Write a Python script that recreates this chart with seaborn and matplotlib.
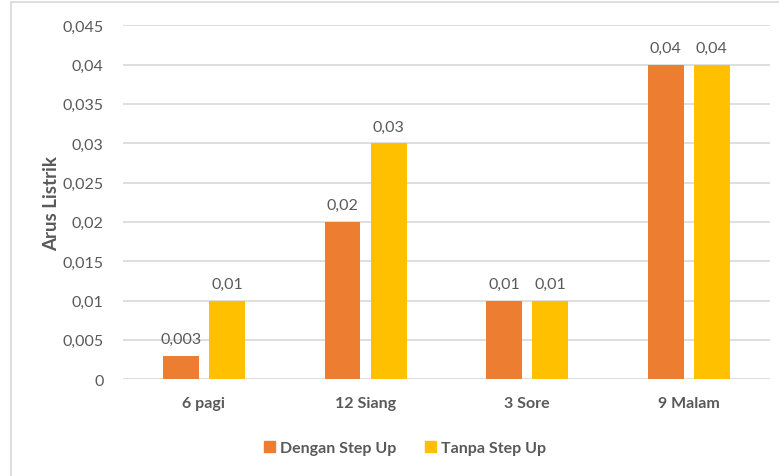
import pandas as pd
import seaborn as sns
import matplotlib.pyplot as plt
from matplotlib.lines import Line2D
from matplotlib.patches import Patch

# data
waktu = ["6 pagi", "12 Siang", "3 Sore", "9 Malam"]
dengan_step_up = [0.003, 0.02, 0.01, 0.04]
tanpa_step_up = [0.01, 0.03, 0.01, 0.04]
seri = ["Dengan Step Up", "Tanpa Step Up"]
yticks = [0, 0.005, 0.01, 0.015, 0.02, 0.025, 0.03, 0.035, 0.04, 0.045]

df = pd.DataFrame({
    "Waktu": waktu * 2,
    "Arus": dengan_step_up + tanpa_step_up,
    "Seri": [seri[0]] * 4 + [seri[1]] * 4,
})

sns.set_style("white")
plt.rcParams["font.family"] = ["Lato", "DejaVu Sans"]
grey = "#595959"
warna = {"Dengan Step Up": "#ED7D31", "Tanpa Step Up": "#FFC000"}

fig = plt.figure(figsize=(7.79, 4.77), dpi=100)
ax = fig.add_axes([0.158, 0.203, 0.83, 0.742])

sns.barplot(data=df, x="Waktu", y="Arus", hue="Seri", palette=warna,
            saturation=1, width=0.57, gap=0.22, legend=False, ax=ax,
            linewidth=0, zorder=3)

def fmt(v):
    return ("%g" % v).replace(".", ",")

for cont in ax.containers:
    ax.bar_label(cont, labels=[fmt(b.get_height()) for b in cont],
                 padding=7, color=grey, fontsize=11.5)

ax.set_ylim(0, 0.045)
ax.set_xlim(-0.5, 3.5)
ax.set_yticks(yticks)
ax.set_yticklabels([fmt(t) for t in yticks], color=grey, fontsize=11.5)
ax.set_xticklabels(waktu, color=grey, fontsize=11.5, fontweight="bold")
ax.tick_params(axis="both", length=0, pad=12)
ax.tick_params(axis="y", pad=14)
ax.yaxis.grid(True, color="#D9D9D9", linewidth=1.2, zorder=0)
ax.set_axisbelow(True)
sns.despine(ax=ax, left=True, bottom=True)
ax.set_xlabel("")
ax.set_ylabel("Arus Listrik", color=grey, fontsize=13.5, fontweight="bold",
              labelpad=2)

handles = [Patch(color=warna[s], label=s) for s in seri]
fig.legend(handles=handles, loc="center", bbox_to_anchor=(0.52, 0.058),
           ncol=2, frameon=False, handlelength=0.7, handleheight=0.7,
           handletextpad=0.3, columnspacing=1.8,
           prop={"family": ["Lato", "DejaVu Sans"], "weight": "bold", "size": 11.5},
           labelcolor=grey)

# chart area border (left and top)
fig.add_artist(Line2D([0.014, 0.014], [0, 0.994], color="#D9D9D9", linewidth=1.2))
fig.add_artist(Line2D([0.014, 1], [0.994, 0.994], color="#D9D9D9", linewidth=1.2))

fig.savefig("out.png", dpi=100)
